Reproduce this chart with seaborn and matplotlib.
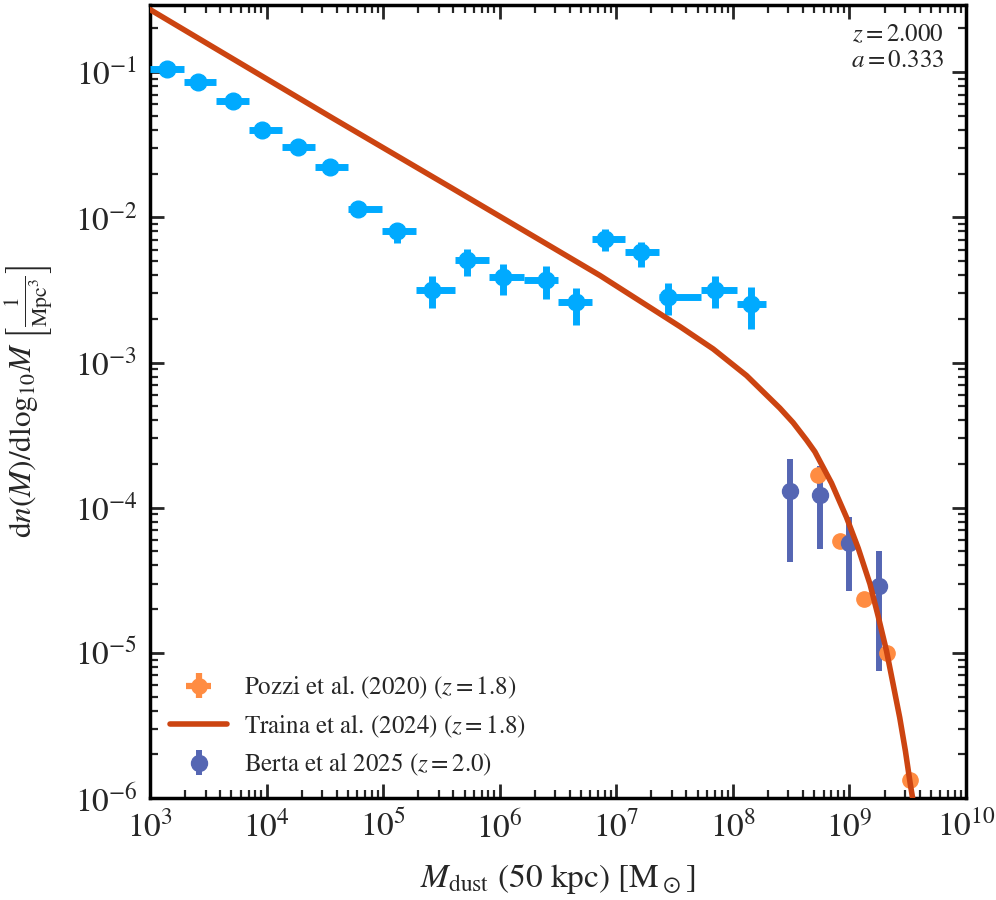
import numpy as np
import seaborn as sns
import matplotlib
matplotlib.use("Agg")
import matplotlib.pyplot as plt

# 先设置 seaborn 样式, 再覆盖字体
sns.set_theme(style="ticks")
plt.rcParams['font.family'] = ['STIXGeneral', 'DejaVu Serif']
plt.rcParams['mathtext.fontset'] = 'stix'
plt.rcParams['axes.unicode_minus'] = False

# 模拟结果 (浅蓝, 带 bin 宽度)
sim_mass = [1.40e3, 2.57e3, 5.15e3, 9.10e3, 1.86e4, 3.50e4, 6.10e4, 1.32e5, 2.61e5,
            5.21e5, 1.07e6, 2.50e6, 4.47e6, 8.00e6, 1.63e7, 2.79e7, 7.00e7, 1.43e8]
sim_bin_lo = [1.00e3, 1.94e3, 3.68e3, 7.06e3, 1.355e4, 2.60e4, 4.99e4, 9.77e4, 1.91e5,
              4.13e5, 8.07e5, 1.60e6, 3.16e6, 6.18e6, 1.186e7, 2.32e7, 5.31e7, 1.08e8]
sim_bin_hi = [1.94e3, 3.68e3, 7.06e3, 1.355e4, 2.60e4, 4.99e4, 9.77e4, 1.91e5, 4.13e5,
              8.07e5, 1.60e6, 3.16e6, 6.18e6, 1.186e7, 2.32e7, 5.31e7, 1.08e8, 1.92e8]
sim_phi = [0.105, 0.085, 0.063, 0.040, 0.0304, 0.0221, 0.0115, 0.0080, 0.00317,
           0.00505, 0.0039, 0.0037, 0.0026, 0.00713, 0.00577, 0.00282, 0.00317, 0.00254]
sim_phi_lo = [0.098, 0.079, 0.059, 0.0375, 0.0285, 0.0207, 0.0107, 0.00662, 0.00236,
              0.00392, 0.00294, 0.00276, 0.0018, 0.00583, 0.00452, 0.00211, 0.00236, 0.00171]
sim_phi_hi = [0.112, 0.091, 0.067, 0.0425, 0.0323, 0.0235, 0.0123, 0.0091, 0.00392,
              0.00601, 0.00474, 0.00459, 0.00324, 0.00827, 0.00673, 0.00351, 0.00392, 0.00329]

# Pozzi et al. (2020)
pozzi_mass = [5.4e8, 8.28e8, 1.33e9, 2.1e9, 3.3e9]
pozzi_mass_lo = [5.1e8, 7.8e8, 1.25e9, 1.98e9, 3.1e9]
pozzi_mass_hi = [5.7e8, 8.8e8, 1.41e9, 2.22e9, 3.5e9]
pozzi_phi = [1.68e-4, 5.92e-5, 2.34e-5, 9.95e-6, 1.33e-6]
pozzi_phi_lo = [1.55e-4, 5.45e-5, 2.15e-5, 9.2e-6, 1.22e-6]
pozzi_phi_hi = [1.82e-4, 6.4e-5, 2.53e-5, 1.08e-5, 1.44e-6]

# Traina et al. (2024) 曲线 (从图上读点)
traina_mass = [1.00e3, 3.73e3, 3.73e4, 3.74e5, 7.23e6, 3.51e7, 6.78e7, 1.31e8, 2.53e8,
               3.29e8, 4.29e8, 5.05e8, 7.01e8, 9.44e8, 1.19e9, 1.50e9, 1.76e9, 2.08e9,
               2.37e9, 2.70e9, 3.02e9, 3.33e9, 3.52e9, 3.76e9]
traina_phi = [0.270, 0.144, 0.048, 0.0162, 0.00398, 1.77e-3, 1.24e-3, 8.13e-4, 4.85e-4,
              3.85e-4, 2.92e-4, 2.43e-4, 1.48e-4, 8.57e-5, 5.25e-5, 2.98e-5, 1.80e-5, 1.03e-5,
              6.08e-6, 3.58e-6, 2.11e-6, 1.24e-6, 9.5e-7, 5.6e-7]

# Berta et al 2025
berta_mass = [3.08e8, 5.57e8, 9.82e8, 1.8e9]
berta_phi = [1.31e-4, 1.23e-4, 5.67e-5, 2.9e-5]
berta_phi_lo = [4.2e-5, 5.19e-5, 2.68e-5, 7.5e-6]
berta_phi_hi = [2.18e-4, 1.95e-4, 8.57e-5, 5.05e-5]


def asym(center, lo, hi):
    c = np.asarray(center)
    return [c - np.asarray(lo), np.asarray(hi) - c]


fig = plt.figure(figsize=(9.96, 9.0), dpi=100)
ax = fig.add_axes([0.1506, 0.1133, 0.8193, 0.8811])
ax.set_xscale("log")
ax.set_yscale("log")

# 模拟数据点
ax.errorbar(sim_mass, sim_phi, xerr=asym(sim_mass, sim_bin_lo, sim_bin_hi),
            yerr=asym(sim_phi, sim_phi_lo, sim_phi_hi), fmt="o", color="#00aaff",
            ms=12, elinewidth=5, capsize=0, zorder=3)

ax.errorbar(pozzi_mass, pozzi_phi, xerr=asym(pozzi_mass, pozzi_mass_lo, pozzi_mass_hi),
            yerr=asym(pozzi_phi, pozzi_phi_lo, pozzi_phi_hi), fmt="o", color="#ff8c42",
            ms=11, elinewidth=4.5, capsize=0, zorder=4,
            label=r"Pozzi et al. (2020) ($z = 1.8$)")

sns.lineplot(x=traina_mass, y=traina_phi, ax=ax, color="#cc4411", lw=4,
             sort=False, estimator=None, zorder=5,
             label=r"Traina et al. (2024) ($z = 1.8$)")

ax.errorbar(berta_mass, berta_phi, yerr=asym(berta_phi, berta_phi_lo, berta_phi_hi),
            fmt="o", color="#5566b3", ms=11.5, elinewidth=4.3, capsize=0, zorder=4,
            label=r"Berta et al 2025 ($z = 2.0$)")

ax.set_xlim(1e3, 1e10)
ax.set_ylim(1e-6, 0.29)

ax.set_xlabel(r"$M_{\mathrm{dust}}$ (50 kpc) [$\mathrm{M}_\odot$]", fontsize=24, labelpad=12)
ax.set_ylabel(r"$\mathrm{d}n(M)/\mathrm{dlog}_{10}M\ \left[\frac{1}{\mathrm{Mpc}^3}\right]$",
              fontsize=22.5, labelpad=14)

ax.tick_params(which="both", direction="in", top=True, right=True, labelsize=24)
ax.tick_params(which="major", length=10, width=2, pad=9)
ax.tick_params(which="minor", length=5.5, width=1.6)
for s in ax.spines.values():
    s.set_linewidth(2.5)
    s.set_color("black")

ax.text(0.973, 0.977, "$z = 2.000$\n$a = 0.333$", transform=ax.transAxes,
        ha="right", va="top", fontsize=18, linespacing=1.1)

# 图例顺序: Pozzi, Traina, Berta
handles, labels = ax.get_legend_handles_labels()
order = [labels.index(l) for l in [r"Pozzi et al. (2020) ($z = 1.8$)",
                                    r"Traina et al. (2024) ($z = 1.8$)",
                                    r"Berta et al 2025 ($z = 2.0$)"]]
ax.legend([handles[i] for i in order], [labels[i] for i in order],
          loc="lower left", frameon=False, fontsize=18, handlelength=2.3,
          handletextpad=0.65, labelspacing=0.45, borderaxespad=0.4)

fig.savefig("out.png", dpi=100)
